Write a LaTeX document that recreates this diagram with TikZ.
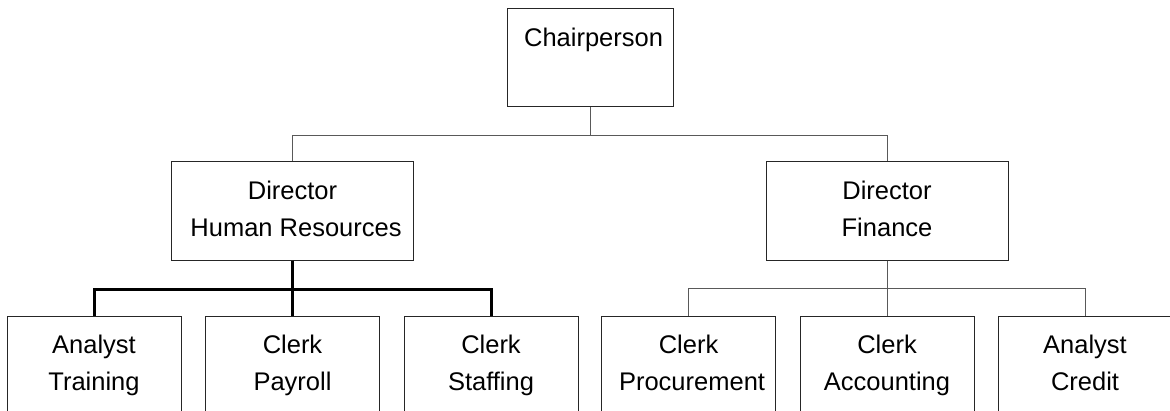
\documentclass[tikz,border=0pt]{standalone}
\usepackage{fontspec}
\setmainfont{Liberation Sans}
\begin{document}
\begin{tikzpicture}[x=0.5pt, y=-0.5pt,
    every node/.style={font=\fontsize{12.75}{18.5}\selectfont, align=center},
    post/.style={draw=black!85, line width=0.5pt, minimum height=49pt, inner sep=0pt},
    topbox/.style={post, minimum width=83pt},
    headbox/.style={post, minimum width=121pt},
    staffbox/.style={post, minimum width=87pt},
    thin/.style={draw=black!65, line width=0.5pt},
    thick/.style={draw=black, line width=1.5pt}]
  \clip (0, 0) rectangle (1170, 411);

  \node[topbox] (chair) at (590, 58) {\strut\ Chairperson\\\strut};

  \node[headbox] (hr) at (292.5, 211) {\strut Director\\\strut\ Human Resources};
  \node[headbox] (fin) at (887, 211) {\strut Director\\\strut Finance};

  \node[staffbox] (train) at (94, 365) {\strut Analyst\\\strut Training};
  \node[staffbox] (pay) at (292.5, 365) {\strut Clerk\\\strut Payroll};
  \node[staffbox] (staff) at (491, 365) {\strut Clerk\\\strut Staffing};
  \node[staffbox] (proc) at (688.5, 365) {\strut Clerk\\\strut\ Procurement};
  \node[staffbox] (acc) at (887, 365) {\strut Clerk\\\strut Accounting};
  \node[staffbox] (cred) at (1085, 365) {\strut Analyst\\\strut Credit};

  \draw[thin] (chair.south) -- +(0, 28) -| (hr.north);
  \draw[thin] (chair.south) -- +(0, 28) -| (fin.north);

  \draw[thick] (hr.south) -- +(0, 29) -| (train.north);
  \draw[thick] (hr.south) -- (pay.north);
  \draw[thick] (hr.south) -- +(0, 29) -| (staff.north);

  \draw[thin] (fin.south) -- +(0, 28) -| (proc.north);
  \draw[thin] (fin.south) -- (acc.north);
  \draw[thin] (fin.south) -- +(0, 28) -| (cred.north);
\end{tikzpicture}
\end{document}
